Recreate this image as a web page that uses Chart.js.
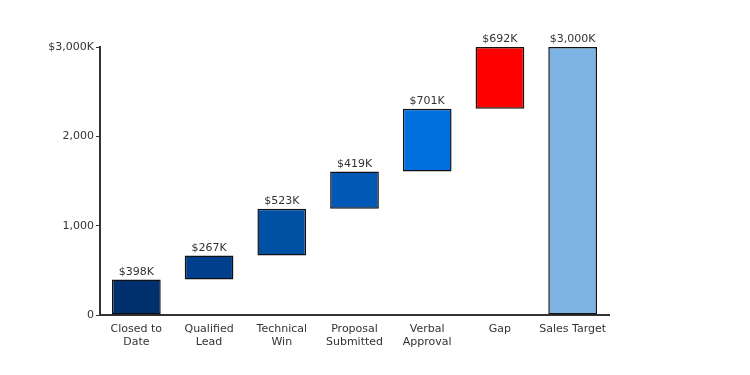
<!DOCTYPE html>
<html>
<head>
<meta charset="utf-8">
<script src="https://cdn.jsdelivr.net/npm/chart.js@4/dist/chart.umd.min.js"></script>
<style>
  html, body { margin: 0; padding: 0; background: #fff; }
  #wrap { width: 750px; height: 375px; }
</style>
</head>
<body>
<div id="wrap"><canvas id="myChart" width="750" height="375"></canvas></div>
<script>
const categories = [['Closed to', 'Date'], ['Qualified', 'Lead'], ['Technical', 'Win'], ['Proposal', 'Submitted'], ['Verbal', 'Approval'], 'Gap', 'Sales Target'];
// step amounts in $K
const steps = [398, 267, 523, 419, 701, 692];
const target = 3000;
const valueLabels = ['$398K', '$267K', '$523K', '$419K', '$701K', '$692K', '$3,000K'];
const barColors = ['#002f6e', '#003f8c', '#0050a4', '#0058b4', '#006fdd', '#ff0000', '#7eb3e6'];

// floating ranges built from the steps
let running = 0;
const ranges = steps.map(v => { const r = [running, running + v]; running += v; return r; });
ranges.push([0, target]);

const valueLabelPlugin = {
    id: 'valueLabels',
    afterDatasetsDraw(chart) {
        const ctx = chart.ctx;
        const meta = chart.getDatasetMeta(0);
        ctx.save();
        ctx.font = '11px "DejaVu Sans", Verdana, sans-serif';
        ctx.fillStyle = '#333';
        ctx.textAlign = 'center';
        ctx.textBaseline = 'bottom';
        meta.data.forEach((bar, i) => {
            ctx.fillText(valueLabels[i], bar.x, Math.min(bar.y, bar.base) - 2);
        });
        ctx.restore();
    }
};

var ctx = document.getElementById('myChart').getContext('2d');
new Chart(ctx, {
    type: 'bar',
    data: {
        labels: categories,
        datasets: [{
            data: ranges,
            backgroundColor: barColors,
            borderColor: '#111',
            borderWidth: 1.5,
            borderSkipped: false,
            barPercentage: 0.67,
            categoryPercentage: 1
        }]
    },
    options: {
        responsive: false,
        animation: false,
        layout: { padding: { top: 47, right: 141, left: 0, bottom: 0 } },
        plugins: { legend: { display: false }, tooltip: { enabled: false } },
        scales: {
            x: {
                grid: { display: false },
                border: { display: true, color: '#333', width: 2 },
                ticks: { color: '#333', font: { family: '"DejaVu Sans", Verdana, sans-serif', size: 11, lineHeight: 1.15 }, maxRotation: 0, padding: 0 },
                afterFit(scale) { scale.height = 60; }
            },
            y: {
                min: 0,
                max: 3000,
                grid: { drawOnChartArea: false, tickLength: 4, color: '#333' },
                border: { display: true, color: '#333', width: 2 },
                ticks: {
                    stepSize: 1000,
                    color: '#333',
                    padding: 2,
                    font: { family: '"DejaVu Sans", Verdana, sans-serif', size: 11 },
                    callback: v => v === 3000 ? '$3,000K' : v.toLocaleString('en-US')
                },
                afterFit(scale) { scale.width = 100; }
            }
        }
    },
    plugins: [valueLabelPlugin]
});
</script>
</body>
</html>
